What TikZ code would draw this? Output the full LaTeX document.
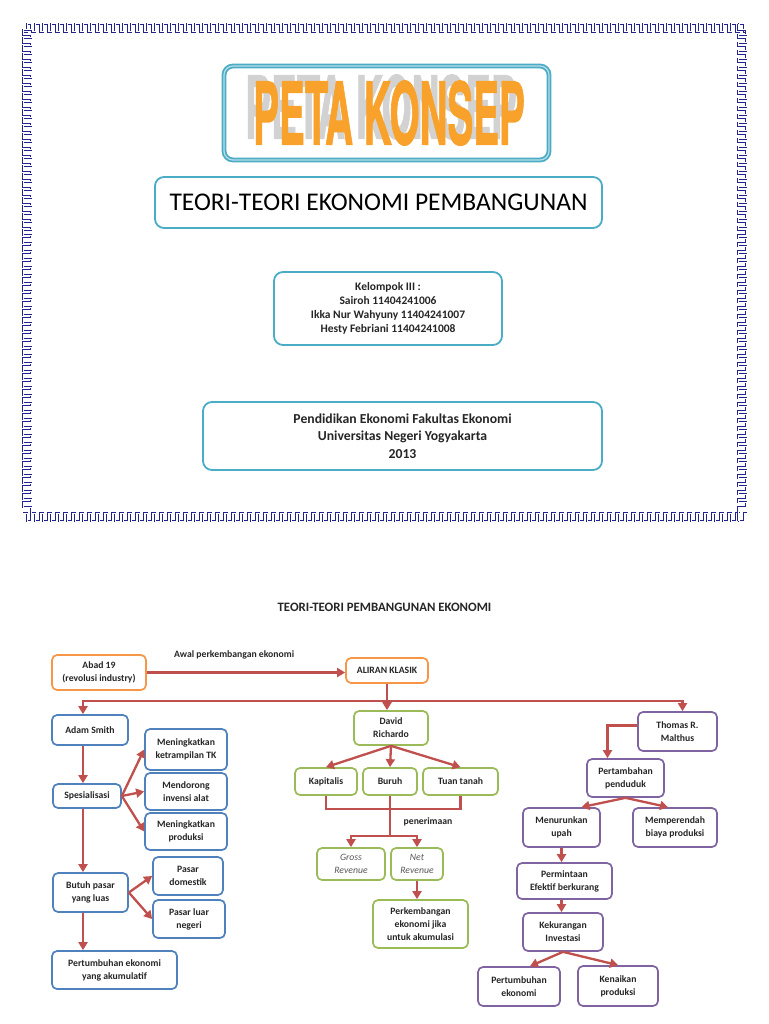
\documentclass[tikz,border=0pt]{standalone}
\usepackage{graphicx}
\usepackage{fontspec}
\setmainfont{Carlito}
\newfontfamily\posterfont[FakeBold=1.5]{TeX Gyre Heros}
\usepackage{tikz}
\usetikzlibrary{arrows.meta,positioning,calc}

\definecolor{arrowred}{HTML}{C0504D}
\definecolor{smithblue}{HTML}{4F81BD}
\definecolor{ricardogreen}{HTML}{9BBB59}
\definecolor{malthuspurple}{HTML}{8064A2}
\definecolor{klasikorange}{HTML}{F79646}
\definecolor{coverteal}{HTML}{4BACC6}
\definecolor{coverlight}{HTML}{B7DEE8}
\definecolor{meanderblue}{HTML}{23238E}
\definecolor{posterorange}{HTML}{F9A22B}
\definecolor{shadowgray}{HTML}{D2D2D2}

\begin{document}
\begin{tikzpicture}[
  x=1pt, y=-1pt,
  every node/.style={align=center, text=black!85,
                     font=\bfseries\fontsize{9.7}{13}\selectfont},
  dims/.style 2 args={minimum width=#1pt, minimum height=#2pt, inner sep=1pt},
  box/.style={draw, line width=1.7pt, rounded corners=5pt, fill=white},
  smithbox/.style={box, draw=smithblue},
  ricardobox/.style={box, draw=ricardogreen},
  malthusbox/.style={box, draw=malthuspurple},
  klasikbox/.style={box, draw=klasikorange},
  coverbox/.style={draw=coverteal, line width=1.8pt, rounded corners=9pt},
  revenue/.style={font=\itshape\fontsize{9.7}{13}\selectfont, text=black!65},
  arr/.style={draw=arrowred, line width=2.3pt, -{Triangle[length=8pt,width=9pt]}},
  link/.style={draw=arrowred, line width=2.3pt},
  meander/.style={draw=meanderblue, line width=0.9pt, double=white,
                  double distance=1pt, line join=miter},
]

\fill[white] (0,0) rectangle (768,1024);
\useasboundingbox (0,0) rectangle (768,1024);

% cover border
\draw[meander] (23,32) \foreach \x in {27,35,...,739} {
  -- (\x,32) -- (\x,24) -- (\x+5,24) -- (\x+5,32) } -- (747,32);
\draw[meander] (23,513) \foreach \x in {27,35,...,739} {
  -- (\x,513) -- (\x,521) -- (\x+5,521) -- (\x+5,513) } -- (747,513);
\draw[meander] (31,24) \foreach \y in {30,38,...,506} {
  -- (31,\y) -- (23,\y) -- (23,\y+5) -- (31,\y+5) } -- (31,521);
\draw[meander] (738,24) \foreach \y in {30,38,...,506} {
  -- (738,\y) -- (746,\y) -- (746,\y+5) -- (738,\y+5) } -- (738,521);

% cover
\node[coverbox, double=coverlight, double distance=1.2pt, dims={325}{94}]
  (konsepbox) at (386.5,113) {};
\node[text=shadowgray, font=\posterfont\bfseries\fontsize{42}{42}\selectfont]
  (konsepshadow) at (381,107) {\scalebox{0.92}[2.05]{PETA KONSEP}};
\node[text=posterorange, font=\posterfont\bfseries\fontsize{42}{42}\selectfont]
  (konsep) at (389,113) {\scalebox{0.92}[2.05]{PETA KONSEP}};

\node[coverbox, dims={447}{51}, text=black, font=\fontsize{25.5}{28}\selectfont]
  (judul) at (378.5,202.5) {TEORI-TEORI EKONOMI PEMBANGUNAN};

\node[coverbox, dims={228}{73}, font=\bfseries\fontsize{11.5}{14}\selectfont]
  (kelompok) at (388,308.5)
  {Kelompok III :\\Sairoh 11404241006\\Ikka Nur Wahyuny 11404241007\\Hesty Febriani 11404241008};

\node[coverbox, dims={399}{68}, font=\bfseries\fontsize{13.7}{17.5}\selectfont]
  (univ) at (402.5,436)
  {Pendidikan Ekonomi Fakultas Ekonomi\\Universitas Negeri Yogyakarta\\2013};

% concept map
\node[font=\bfseries\fontsize{12.8}{14}\selectfont] (judulbawah) at (384.5,607.5)
  {TEORI-TEORI PEMBANGUNAN EKONOMI};

\node[klasikbox, dims={94}{35}] (abad) at (99,672.5) {Abad 19\\(revolusi industry)};
\node[klasikbox, dims={82}{25}] (aliran) at (387,670.5) {ALIRAN KLASIK};
\draw[arr] (abad.east) -- (abad.east -| aliran.west)
  node[pos=0.44, above=9pt] (awal) {Awal perkembangan ekonomi};

% Adam Smith
\node[smithbox, dims={76}{30}] (adam) at (90,730) {Adam Smith};
\node[smithbox, dims={68}{24}] (spes) at (87,796) {Spesialisasi};
\node[smithbox, dims={82}{41}] (tk) at (186,749.5) {Meningkatkan\\ketrampilan TK};
\node[smithbox, dims={82}{37}] (alat) at (186,791.5) {Mendorong\\invensi alat};
\node[smithbox, dims={82}{37}] (prod) at (186,831.5) {Meningkatkan\\produksi};
\node[smithbox, dims={75}{39}] (butuh) at (90.5,892.5) {Butuh pasar\\yang luas};
\node[smithbox, dims={70}{38}] (domestik) at (188,876) {Pasar\\domestik};
\node[smithbox, dims={72}{38}] (luar) at (189,919) {Pasar luar\\negeri};
\node[smithbox, dims={125}{38}] (akumulatif) at (114.5,970)
  {Pertumbuhan ekonomi\\yang akumulatif};

% David Richardo
\node[ricardobox, dims={74}{34}] (david) at (391,728) {David\\Richardo};
\node[ricardobox, dims={62}{27}] (kapitalis) at (326,781.5) {Kapitalis};
\node[ricardobox, dims={54}{27}] (buruh) at (390,781.5) {Buruh};
\node[ricardobox, dims={75}{27}] (tuan) at (460.5,781.5) {Tuan tanah};
\node[ricardobox, revenue, dims={68}{32}] (gross) at (351,864) {Gross\\Revenue};
\node[ricardobox, revenue, dims={52}{32}] (net) at (417,864) {Net\\Revenue};
\node[ricardobox, dims={95}{48}] (perkembangan) at (420.5,924)
  {Perkembangan\\ekonomi jika\\untuk akumulasi};

% Thomas R. Malthus
\node[malthusbox, dims={79}{39}] (thomas) at (677.5,731.5) {Thomas R.\\Malthus};
\node[malthusbox, dims={77}{38}] (penduduk) at (625.5,778) {Pertambahan\\penduduk};
\node[malthusbox, dims={77}{39}] (upah) at (561.5,827.5) {Menurunkan\\upah};
\node[malthusbox, dims={84}{39}] (biaya) at (675,827.5) {Memperendah\\biaya produksi};
\node[malthusbox, dims={95}{36}] (permintaan) at (564.5,881) {Permintaan\\Efektif berkurang};
\node[malthusbox, dims={80}{38}] (investasi) at (563,932) {Kekurangan\\Investasi};
\node[malthusbox, dims={82}{39}] (tumbuh) at (519,986.5) {Pertumbuhan\\ekonomi};
\node[malthusbox, dims={80}{40}] (kenaikan) at (618,986) {Kenaikan\\produksi};

% connectors
\path (aliran.south) ++(0,17) coordinate (cabang);
\draw[arr] (cabang) -| ([xshift=-7pt]adam.north);
\draw[arr] (cabang) -| ([xshift=5pt]thomas.north);
\draw[arr] (aliran.south) -- (aliran.south |- david.north);

\coordinate (sumbu) at (83,0);
\draw[arr] (adam.south -| sumbu) -- (spes.north -| sumbu);
\draw[arr] (spes.south -| sumbu) -- (butuh.north -| sumbu);
\draw[arr] (butuh.south -| sumbu) -- (akumulatif.north -| sumbu);
\foreach \ke in {tk,alat,prod} \draw[arr] (spes.east) -- (\ke.west);
\foreach \ke in {domestik,luar} \draw[arr] (butuh.east) -- (\ke.west);

\foreach \ke in {kapitalis,buruh,tuan} \draw[arr] (david.south) -- (\ke.north);
\draw[link] (kapitalis.south) -- ++(0,13) -| (tuan.south);
\path (buruh.south) ++(0,40) coordinate (terima);
\draw[link] (buruh.south) -- (terima);
\draw[arr] (terima) -| (gross.north);
\draw[arr] (terima) -| (net.north);
\node (penerimaan) at (428,822) {penerimaan};
\draw[arr] (net.south) -- (net.south |- perkembangan.north);

\draw[arr] ([yshift=6pt]thomas.west) -| ([xshift=-18pt]penduduk.north);
\draw[arr] (penduduk.south) -- ([xshift=20pt]upah.north);
\draw[arr] (penduduk.south) -- ([xshift=-7pt]biaya.north);
\draw[arr] (upah.south) -- (upah.south |- permintaan.north);
\draw[arr] (permintaan.south -| upah.south) -- (investasi.north -| upah.south);
\draw[arr] (investasi.south) -- ([xshift=11pt]tumbuh.north);
\draw[arr] (investasi.south) -- (kenaikan.north);

\end{tikzpicture}
\end{document}
